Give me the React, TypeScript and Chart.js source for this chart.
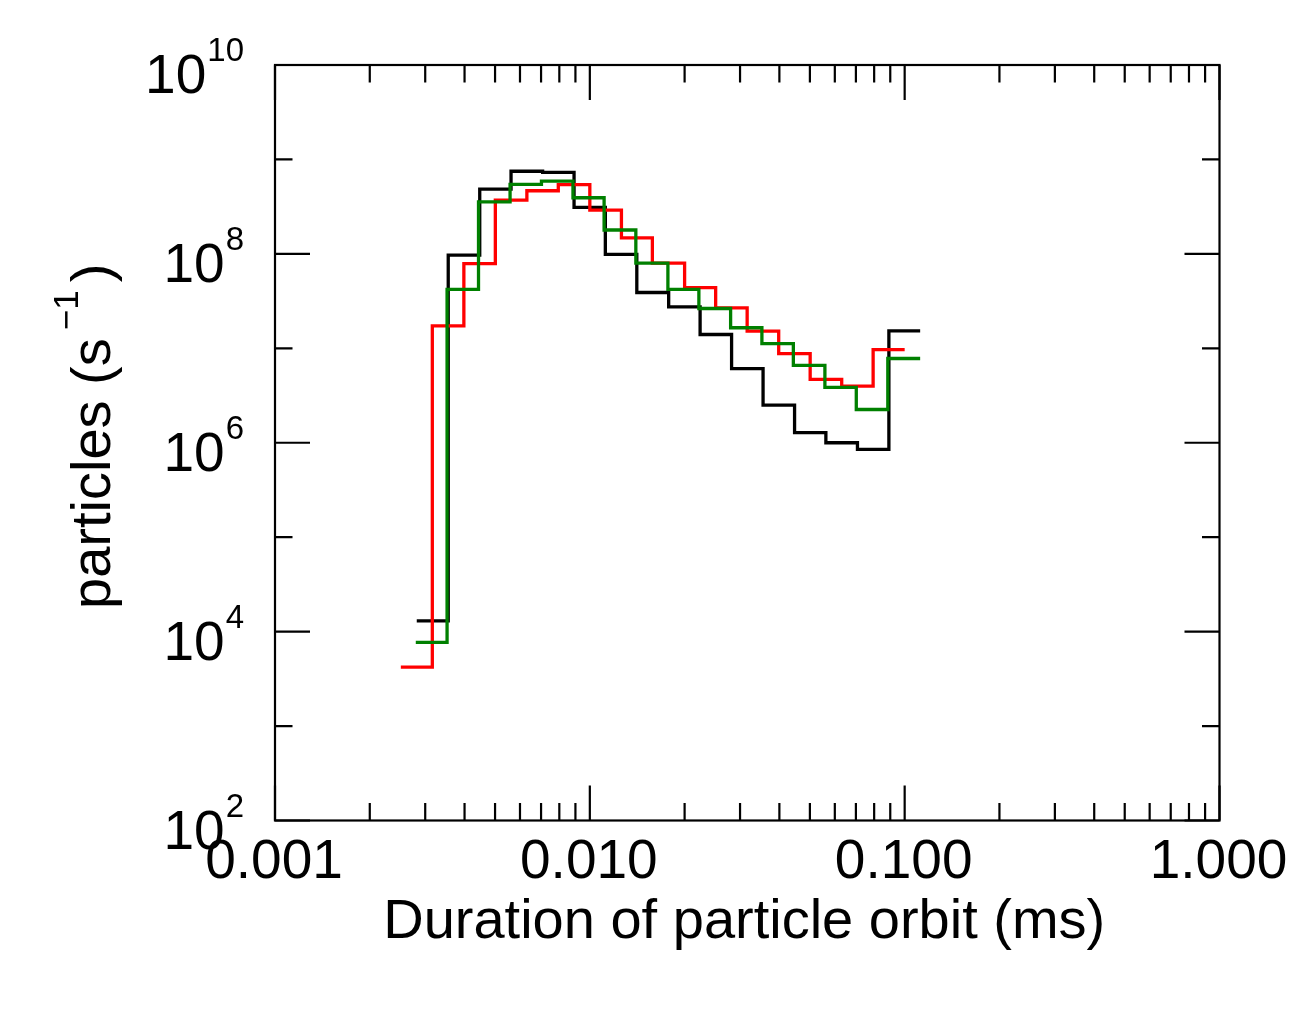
import React, { useEffect, useRef } from 'react';
import { Chart, registerables } from 'chart.js';

Chart.register(...registerables);

// Bin edges (ms) and rates (s^-1) for each histogram
const blackEdges = [0.00282, 0.00355, 0.00447, 0.00562, 0.00708, 0.00891, 0.0112, 0.0141, 0.0178, 0.0224, 0.0282, 0.0355, 0.0447, 0.0562, 0.0708, 0.0891, 0.112];
const blackValues = [1.3e4, 9.7e7, 4.85e8, 7.5e8, 7.3e8, 3.1e8, 9.9e7, 3.9e7, 2.75e7, 1.4e7, 6.1e6, 2.5e6, 1.28e6, 1.0e6, 8.5e5, 1.53e7];

const redEdges = [0.00251, 0.00316, 0.00398, 0.00501, 0.00631, 0.00794, 0.01, 0.0126, 0.0158, 0.02, 0.0251, 0.0316, 0.0398, 0.0501, 0.0631, 0.0794, 0.1];
const redValues = [4.2e3, 1.73e7, 7.9e7, 3.7e8, 4.66e8, 5.4e8, 2.9e8, 1.48e8, 8.0e7, 4.4e7, 2.68e7, 1.52e7, 8.8e6, 4.7e6, 3.97e6, 9.7e6];

const greenEdges = [0.00280, 0.00352, 0.00443, 0.00558, 0.00702, 0.00884, 0.0111, 0.0140, 0.0177, 0.0222, 0.0280, 0.0352, 0.0443, 0.0558, 0.0702, 0.0884, 0.112];
const greenValues = [7.7e3, 4.2e7, 3.56e8, 5.45e8, 5.9e8, 3.93e8, 1.79e8, 8.0e7, 4.2e7, 2.64e7, 1.65e7, 1.12e7, 6.6e6, 3.85e6, 2.25e6, 7.8e6];

// Axes
const xMin = 0.001;
const xMax = 1;
const yMin = 1e2;
const yMax = 1e10;
const xTickValues = [0.001, 0.01, 0.1, 1];
const xTickLabels = ['0.001', '0.010', '0.100', '1.000'];
const xMinorMultipliers = [2, 3, 4, 5, 6, 7, 8, 9];
const yTickValues = [1e2, 1e4, 1e6, 1e8, 1e10];
const yTickExponents = ['2', '4', '6', '8', '10'];
const yMinorTickValues = [1e3, 1e5, 1e7, 1e9];

const xTitle = 'Duration of particle orbit (ms)';
const yTitleMain = 'particles (s';
const yTitleSup = '\u22121';
const yTitleEnd = ')';

const FONT = '"Liberation Sans", Arial, Helvetica, sans-serif';

function toSteps(edges: number[], values: number[]) {
  const pts = values.map((v, i) => ({ x: edges[i], y: v }));
  pts.push({ x: edges[edges.length - 1], y: values[values.length - 1] });
  return pts;
}

const framePlugin = {
  id: 'frameTicks',
  afterDatasetsDraw(chart: any) {
    const { ctx, chartArea: a, scales } = chart;
    const xs = scales.x;
    const ys = scales.y;
    const major = 35;
    const minor = 17.5;
    ctx.save();
    ctx.strokeStyle = '#000';
    ctx.lineWidth = 2.2;
    ctx.lineCap = 'butt';
    ctx.strokeRect(a.left, a.top, a.right - a.left, a.bottom - a.top);
    ctx.beginPath();
    // x ticks (bottom and top)
    xTickValues.forEach((v, i) => {
      const px = xs.getPixelForValue(v);
      ctx.moveTo(px, a.bottom); ctx.lineTo(px, a.bottom - major);
      ctx.moveTo(px, a.top); ctx.lineTo(px, a.top + major);
      if (i < xTickValues.length - 1) {
        xMinorMultipliers.forEach((m) => {
          const mx = xs.getPixelForValue(v * m);
          ctx.moveTo(mx, a.bottom); ctx.lineTo(mx, a.bottom - minor);
          ctx.moveTo(mx, a.top); ctx.lineTo(mx, a.top + minor);
        });
      }
    });
    // y ticks (left and right)
    yTickValues.forEach((v) => {
      const py = ys.getPixelForValue(v);
      ctx.moveTo(a.left, py); ctx.lineTo(a.left + major, py);
      ctx.moveTo(a.right, py); ctx.lineTo(a.right - major, py);
    });
    yMinorTickValues.forEach((v) => {
      const py = ys.getPixelForValue(v);
      ctx.moveTo(a.left, py); ctx.lineTo(a.left + minor, py);
      ctx.moveTo(a.right, py); ctx.lineTo(a.right - minor, py);
    });
    ctx.stroke();

    ctx.fillStyle = '#000';
    // x tick labels
    ctx.font = `55px ${FONT}`;
    ctx.textAlign = 'center';
    ctx.textBaseline = 'alphabetic';
    xTickValues.forEach((v, i) => {
      const px = xs.getPixelForValue(v);
      ctx.fillText(xTickLabels[i], px - 1, a.bottom + 57.5);
    });
    // x title
    ctx.font = `56px ${FONT}`;
    ctx.fillText(xTitle, (a.left + a.right) / 2 - 3, a.bottom + 117.5);

    // y tick labels with superscript exponent
    ctx.textAlign = 'left';
    const right = a.left - 31;
    yTickValues.forEach((v, i) => {
      const py = ys.getPixelForValue(v);
      ctx.font = `33px ${FONT}`;
      const we = ctx.measureText(yTickExponents[i]).width;
      ctx.font = `55px ${FONT}`;
      const wb = ctx.measureText('10').width;
      ctx.fillText('10', right - we - wb - 1, py + 28);
      ctx.font = `33px ${FONT}`;
      ctx.fillText(yTickExponents[i], right - we, py - 4);
    });

    // y title, rotated
    ctx.save();
    ctx.translate(a.left - 165, 609);
    ctx.rotate(-Math.PI / 2);
    ctx.font = `56px ${FONT}`;
    ctx.fillText(yTitleMain, 0, 0);
    const w1 = ctx.measureText(yTitleMain).width;
    ctx.font = `35px ${FONT}`;
    ctx.fillText(yTitleSup, w1 + 8, -32);
    const w2 = ctx.measureText(yTitleSup).width;
    ctx.font = `56px ${FONT}`;
    ctx.fillText(yTitleEnd, w1 + 8 + w2 + 8, 0);
    ctx.restore();

    ctx.restore();
  },
};

export default function App() {
  const ref = useRef<HTMLCanvasElement | null>(null);
  useEffect(() => {
    if (!ref.current) return;
    const chart = new Chart(ref.current, {
      type: 'line',
      data: {
        datasets: [
          { label: 'black', data: toSteps(blackEdges, blackValues), borderColor: '#000000', borderWidth: 3.3, stepped: true, pointRadius: 0, fill: false, order: 3 },
          { label: 'red', data: toSteps(redEdges, redValues), borderColor: '#ff0000', borderWidth: 3.3, stepped: true, pointRadius: 0, fill: false, order: 2 },
          { label: 'green', data: toSteps(greenEdges, greenValues), borderColor: '#008000', borderWidth: 3.3, stepped: true, pointRadius: 0, fill: false, order: 1 },
        ],
      },
      options: {
        animation: false,
        responsive: false,
        devicePixelRatio: 1,
        layout: { padding: { left: 275, top: 65, right: 94.5, bottom: 213.5 } },
        plugins: { legend: { display: false }, tooltip: { enabled: false } },
        scales: {
          x: { type: 'logarithmic', min: xMin, max: xMax, display: false },
          y: { type: 'logarithmic', min: yMin, max: yMax, display: false },
        },
      },
      plugins: [framePlugin],
    } as any);
    return () => chart.destroy();
  }, []);
  return (
    <div style={{ position: 'fixed', left: 0, top: 0, width: 1314, height: 1034, background: '#fff' }}>
      <canvas ref={ref} width={1314} height={1034} style={{ width: 1314, height: 1034, display: 'block' }} />
    </div>
  );
}
